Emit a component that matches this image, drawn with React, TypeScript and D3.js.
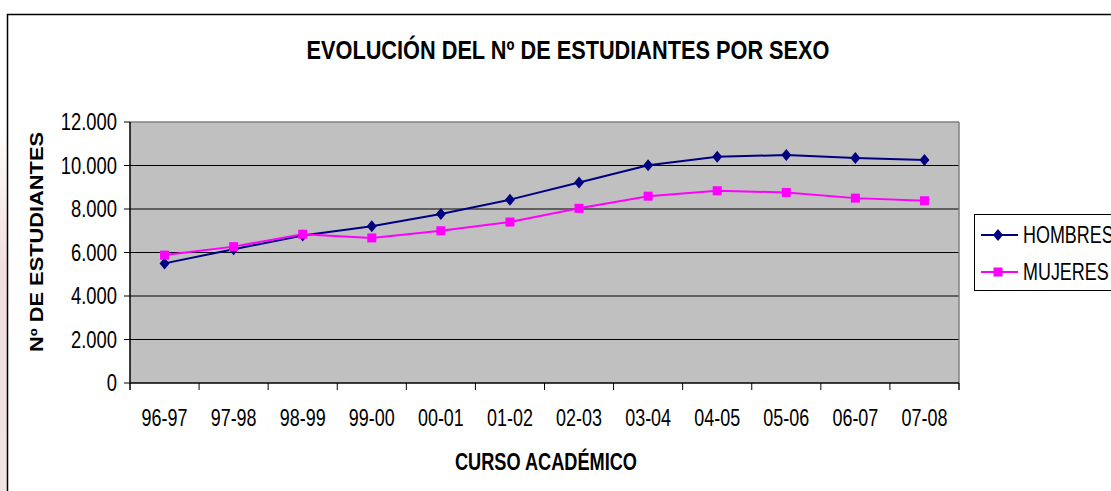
import React, { useEffect, useRef } from 'react';
import * as d3 from 'd3';

const cursos = ['96-97', '97-98', '98-99', '99-00', '00-01', '01-02', '02-03', '03-04', '04-05', '05-06', '06-07', '07-08'];
const hombres = [5500, 6150, 6780, 7210, 7770, 8430, 9220, 10010, 10400, 10480, 10340, 10250];
const mujeres = [5880, 6270, 6840, 6670, 7000, 7400, 8030, 8590, 8840, 8760, 8500, 8380];
const yTicks = [0, 2000, 4000, 6000, 8000, 10000, 12000];

const W = 1111;
const H = 491;

const App: React.FC = () => {
  const ref = useRef<SVGSVGElement | null>(null);

  useEffect(() => {
    const svg = d3.select(ref.current);
    svg.selectAll('*').remove();

    const left = 130, right = 959, top = 122, bottom = 383;
    const x = d3.scaleBand<string>().domain(cursos).range([left, right]).padding(0);
    const y = d3.scaleLinear().domain([0, 12000]).range([bottom, top]);
    const cx = (c: string) => (x(c) as number) + x.bandwidth() / 2;
    const fmt = d3.formatLocale({ decimal: ',', thousands: '.', grouping: [3], currency: ['', ''] }).format(',d');
    const font = 'Liberation Sans, Arial, sans-serif';

    // faint pink strip at the very left
    const grad = svg.append('defs').append('linearGradient').attr('id', 'pk').attr('x1', 0).attr('x2', 0).attr('y1', 0).attr('y2', 1);
    grad.append('stop').attr('offset', '0%').attr('stop-color', '#ffffff');
    grad.append('stop').attr('offset', '40%').attr('stop-color', '#f3dede');
    grad.append('stop').attr('offset', '100%').attr('stop-color', '#f0e4e4');
    svg.append('rect').attr('x', 0).attr('y', 120).attr('width', 7).attr('height', H - 120).attr('fill', 'url(#pk)');

    // chart frame
    svg.append('rect').attr('x', 7.5).attr('y', 14.5).attr('width', W + 20).attr('height', H + 20)
      .attr('fill', '#fff').attr('stroke', '#000').attr('stroke-width', 1.5);

    // plot area
    svg.append('rect').attr('x', left).attr('y', top).attr('width', right - left).attr('height', bottom - top)
      .attr('fill', '#c0c0c0');

    svg.append('g').selectAll('line').data(yTicks.filter((t) => t > 0 && t < 12000)).enter().append('line')
      .attr('x1', left).attr('x2', right).attr('y1', (d) => y(d)).attr('y2', (d) => y(d))
      .attr('stroke', '#000').attr('stroke-width', 1);

    svg.append('line').attr('x1', left).attr('x2', right).attr('y1', top).attr('y2', top).attr('stroke', '#808080').attr('stroke-width', 1.5);
    svg.append('line').attr('x1', right).attr('x2', right).attr('y1', top).attr('y2', bottom + 7).attr('stroke', '#808080').attr('stroke-width', 1.5);
    svg.append('line').attr('x1', left).attr('x2', left).attr('y1', top).attr('y2', bottom + 7).attr('stroke', '#000').attr('stroke-width', 1.5);
    svg.append('line').attr('x1', left).attr('x2', right).attr('y1', bottom).attr('y2', bottom).attr('stroke', '#000').attr('stroke-width', 1.5);

    // y ticks
    const yt = svg.append('g').selectAll('g').data(yTicks).enter().append('g');
    yt.append('line').attr('x1', left - 6).attr('x2', left).attr('y1', (d) => y(d)).attr('y2', (d) => y(d)).attr('stroke', '#000');
    yt.append('text').attr('transform', (d) => `translate(117,${y(d) + 8}) scale(0.8,1)`)
      .attr('text-anchor', 'end').attr('font-family', font).attr('font-size', 23).attr('fill', '#000')
      .text((d) => fmt(d));

    // x ticks
    const bounds = cursos.map((c) => x(c) as number).concat([right]);
    svg.append('g').selectAll('line').data(bounds.slice(1)).enter().append('line')
      .attr('x1', (d) => d).attr('x2', (d) => d).attr('y1', bottom).attr('y2', bottom + 7).attr('stroke', '#000');
    svg.append('g').selectAll('text').data(cursos).enter().append('text')
      .attr('transform', (d) => `translate(${cx(d)},${426}) scale(0.78,1)`)
      .attr('text-anchor', 'middle').attr('font-family', font).attr('font-size', 23).attr('fill', '#000')
      .text((d) => d);

    // lines
    const line = d3.line<number>().x((_, i) => cx(cursos[i])).y((d) => y(d));
    svg.append('path').datum(hombres).attr('d', line).attr('fill', 'none').attr('stroke', '#000080').attr('stroke-width', 2);
    svg.append('path').datum(mujeres).attr('d', line).attr('fill', 'none').attr('stroke', '#ff00ff').attr('stroke-width', 2);

    const diamond = 'M0,-6L5,0L0,6L-5,0Z';
    svg.append('g').selectAll('path').data(hombres).enter().append('path')
      .attr('d', diamond).attr('transform', (d, i) => `translate(${cx(cursos[i])},${y(d)})`).attr('fill', '#000080');
    svg.append('g').selectAll('rect').data(mujeres).enter().append('rect')
      .attr('x', (_, i) => cx(cursos[i]) - 4.5).attr('y', (d) => y(d) - 4.5).attr('width', 9).attr('height', 9).attr('fill', '#ff00ff');

    // titles
    svg.append('text').attr('x', 568).attr('y', 59).attr('text-anchor', 'middle').attr('font-family', font)
      .attr('font-weight', 'bold').attr('font-size', 25).attr('textLength', 523).attr('lengthAdjust', 'spacingAndGlyphs')
      .text('EVOLUCIÓN DEL Nº DE ESTUDIANTES POR SEXO');
    svg.append('text').attr('x', 546).attr('y', 470).attr('text-anchor', 'middle').attr('font-family', font)
      .attr('font-weight', 'bold').attr('font-size', 23).attr('textLength', 182).attr('lengthAdjust', 'spacingAndGlyphs')
      .text('CURSO ACADÉMICO');
    svg.append('text').attr('transform', 'translate(43,242) rotate(-90)').attr('text-anchor', 'middle').attr('font-family', font)
      .attr('font-weight', 'bold').attr('font-size', 18).attr('textLength', 220).attr('lengthAdjust', 'spacingAndGlyphs')
      .text('Nº DE ESTUDIANTES');

    // legend
    const lg = svg.append('g');
    lg.append('rect').attr('x', 974.5).attr('y', 214.5).attr('width', 200).attr('height', 76)
      .attr('fill', '#fff').attr('stroke', '#000').attr('stroke-width', 1);
    const items = [
      { name: 'HOMBRES', color: '#000080', ly: 235 },
      { name: 'MUJERES', color: '#ff00ff', ly: 272 },
    ];
    items.forEach((it, i) => {
      lg.append('line').attr('x1', 981).attr('x2', 1018).attr('y1', it.ly).attr('y2', it.ly).attr('stroke', it.color).attr('stroke-width', 2);
      if (i === 0) lg.append('path').attr('d', diamond).attr('transform', `translate(998,${it.ly})`).attr('fill', it.color);
      else lg.append('rect').attr('x', 993.5).attr('y', it.ly - 4.5).attr('width', 9).attr('height', 9).attr('fill', it.color);
      lg.append('text').attr('transform', `translate(1023,${it.ly + 8}) scale(0.78,1)`).attr('font-family', font)
        .attr('font-size', 23).attr('fill', '#000').text(it.name);
    });
  }, []);

  return <svg ref={ref} width={W} height={H} style={{ position: 'absolute', left: 0, top: 0 }} />;
};

export default App;
